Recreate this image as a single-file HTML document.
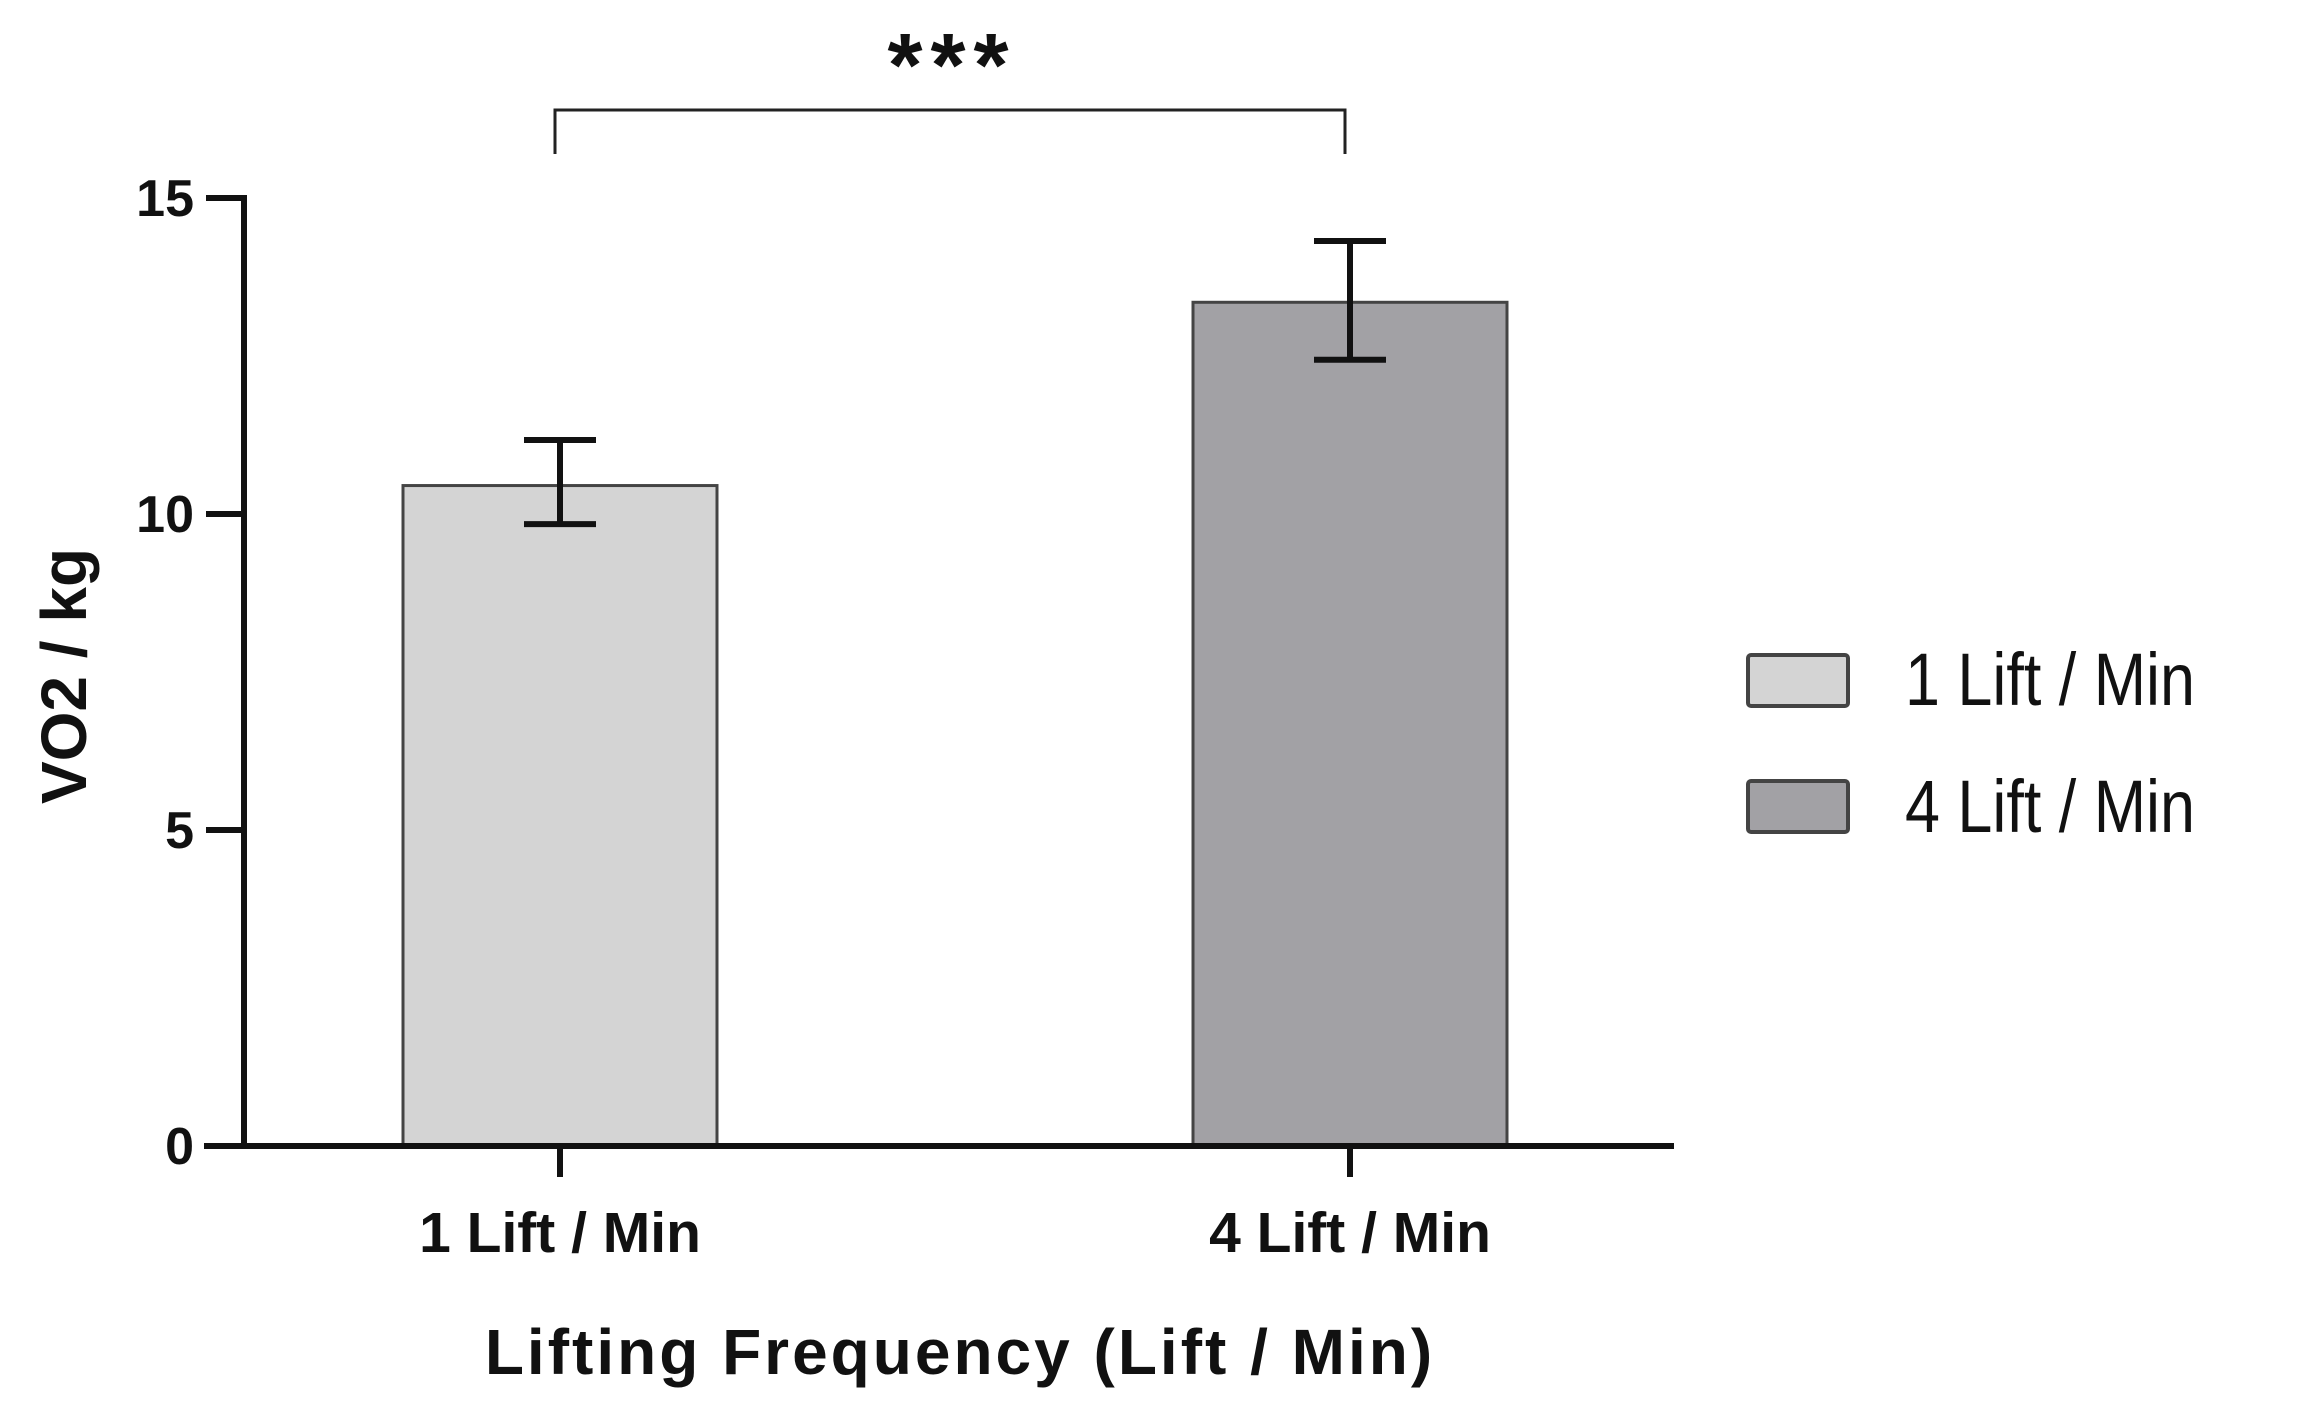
<!DOCTYPE html>
<html><head><meta charset="utf-8"><style>html,body{margin:0;padding:0;background:#fff}svg{display:block}</style></head>
<body>
<svg id="chart" width="2297" height="1419" viewBox="0 0 2297 1419" xmlns="http://www.w3.org/2000/svg" font-family="'Liberation Sans', Arial, sans-serif">
<g id="plot"></g>
</svg>
<script>
const categories = ["1 Lift / Min", "4 Lift / Min"];
const means = [10.45, 13.35];
const errUpper = [11.17, 14.32];
const errLower = [9.84, 12.44];
const yTicks = [0, 5, 10, 15];
const fills = ["#d4d4d4", "#a2a1a5"];

const NS = "http://www.w3.org/2000/svg";
const g = document.getElementById('plot');
const x0 = 244, xEnd = 1674, yBase = 1146, yTop = 198;
const yScale = v => yBase - (v - 0) / 15 * (yBase - yTop);
const xCenters = [560, 1350];
const xScale = i => xCenters[0] + i * (xCenters[1] - xCenters[0]);
const barW = 314;
function el(tag, attrs, text) {
  const e = document.createElementNS(NS, tag);
  for (const k in attrs) e.setAttribute(k, attrs[k]);
  if (text !== undefined) e.textContent = text;
  g.appendChild(e);
  return e;
}
categories.forEach((c, i) => {
  const cx = xScale(i);
  const b = el('rect', {x: cx - barW/2, y: yScale(means[i]), width: barW, height: yBase - yScale(means[i]), fill: fills[i], stroke: '#444', 'stroke-width': 3});
  
  
  const e1 = el('path', {d: `M${cx-36},${yScale(errUpper[i])}H${cx+36}M${cx},${yScale(errUpper[i])}V${yScale(errLower[i])}M${cx-36},${yScale(errLower[i])}H${cx+36}`, stroke: '#111', 'stroke-width': 6, fill: 'none'});
  
  
  const t = el('line', {x1: cx, x2: cx, y1: yBase, y2: 1177, stroke: '#111', 'stroke-width': 6});
  
  
  const l = el('text', {x: cx, y: 1252, 'text-anchor': 'middle', 'font-size': 57, 'font-weight': 'bold', fill: '#111'}, c);
  
  
});
const ya = el('path', {d: `M${x0},${yTop-3}V${yBase}`, stroke: '#111', 'stroke-width': 6, fill: 'none'});


const xa = el('path', {d: `M${x0-40},${yBase}H${xEnd}`, stroke: '#111', 'stroke-width': 6, fill: 'none'});


yTicks.forEach(v => {
  const t = el('line', {x1: x0 - 38, x2: x0, y1: yScale(v), y2: yScale(v), stroke: '#111', 'stroke-width': 6});
  
  
  const l = el('text', {x: 194, y: yScale(v) + 18, 'text-anchor': 'end', 'font-size': 52, 'font-weight': 'bold', fill: '#111'}, String(v));
  
  
});
const yt = el('text', {x: 0, y: 0, transform: 'translate(86,676) rotate(-90)', 'text-anchor': 'middle', 'font-size': 64, 'font-weight': 'bold', fill: '#111'}, 'VO2 / kg');


const xt = el('text', {x: 960, y: 1374, 'text-anchor': 'middle', 'font-size': 64, 'font-weight': 'bold', fill: '#111', 'letter-spacing': 3}, 'Lifting Frequency (Lift / Min)');


const br = el('path', {d: `M555,154V110H1345V154`, stroke: '#222', 'stroke-width': 3, fill: 'none'});


const st = el('text', {x: 952, y: 96, 'text-anchor': 'middle', 'font-size': 90, 'font-weight': 'bold', fill: '#111', 'letter-spacing': 8}, '***');


const legY = [655, 781], legBase = [705, 832];
categories.forEach((c, i) => {
  const r = el('rect', {x: 1748, y: legY[i], width: 100, height: 51, fill: fills[i], stroke: '#444', 'stroke-width': 4, rx: 3});
  
  
  const t = el('text', {x: 1905, y: legBase[i], 'font-size': 74, fill: '#111', textLength: 290, lengthAdjust: 'spacingAndGlyphs'}, c);
  
  
});
</script>
</body></html>
